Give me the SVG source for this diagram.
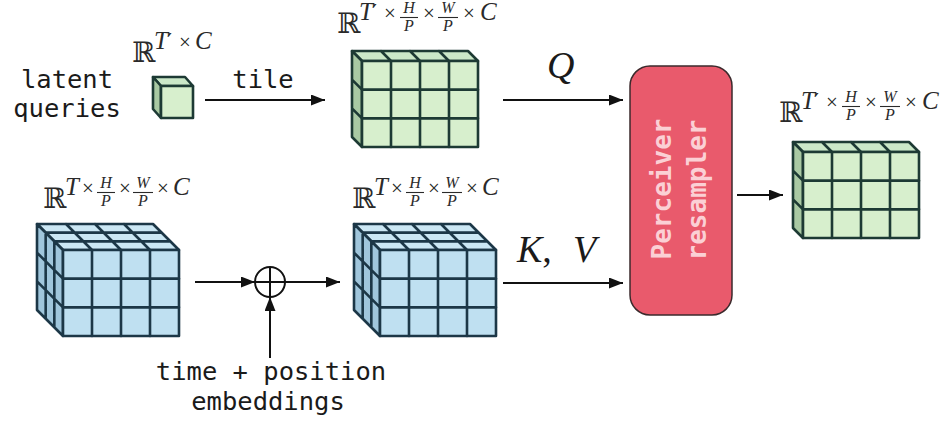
<svg xmlns="http://www.w3.org/2000/svg" xmlns:xlink="http://www.w3.org/1999/xlink" width="942" height="424" viewBox="0 0 942 424">
<style>
.mono{font-family:"DejaVu Sans Mono","Liberation Mono",monospace;font-size:25.5px;fill:#1a1a1a}
.bb{font-family:"DejaVu Serif","DejaVu Sans",serif;font-size:28px;fill:#2a2a2a}
.mi{font-family:"Liberation Serif","DejaVu Serif",serif;font-style:italic;font-size:25px;fill:#2a2a2a}
.op{font-family:"Liberation Serif","DejaVu Serif",serif;font-size:21px;fill:#2a2a2a}
.pr{font-family:"DejaVu Sans","Liberation Sans",sans-serif;font-size:22px;fill:#2a2a2a}
.fr{font-family:"Liberation Serif","DejaVu Serif",serif;font-style:italic;font-size:16px;fill:#2a2a2a;text-anchor:middle}
.fbar{stroke:#2a2a2a;stroke-width:1.1}
.big{font-family:"Liberation Serif","DejaVu Serif",serif;font-style:italic;font-size:38px;fill:#1a1a1a}
.conn{stroke:#111;stroke-width:2;fill:none}
.g-front{fill:#d7efcd}.g-top{fill:#cbe8c8}.g-side{fill:#a9c9a3}
.b-front{fill:#bfe0f1}.b-top{fill:#cbe7f4}.b-side{fill:#a0c6dc}
.gs{stroke:#1d3a34;stroke-width:2.6;stroke-linejoin:round;stroke-linecap:round}
.bs{stroke:#1c3747;stroke-width:2.6;stroke-linejoin:round;stroke-linecap:round}
.box{fill:#e95a6c;stroke:#3b2a2c;stroke-width:1.5}
.boxt{font-family:"DejaVu Sans Mono","Liberation Mono",monospace;font-size:26px;font-weight:bold;fill:#fbd0d5;text-anchor:middle}
</style>
<defs>
<marker id="ah" markerUnits="userSpaceOnUse" markerWidth="15" markerHeight="12" refX="14" refY="5.5" orient="auto">
<path d="M0,0 L14,5.5 L0,11 z" fill="#111"/>
</marker>
<g id="greenBlock">
<path class="g-top gs" d="M0,0 L116,0 L106,-10 L-10,-10 Z M29,0 L19,-10 M58,0 L48,-10 M87,0 L77,-10"/>
<path class="g-side gs" d="M0,0 L0,86 L-10,76 L-10,-10 Z M0,28.67 L-10,18.67 M0,57.33 L-10,47.33"/>
<rect class="g-front gs" x="0" y="0" width="116" height="86"/>
<path class="gs" fill="none" d="M29,0 V86 M58,0 V86 M87,0 V86 M0,28.67 H116 M0,57.33 H116"/>
</g>
<g id="blueBlock">
<path class="b-top bs" d="M0,0 L116,0 L90,-26 L-26,-26 Z M29,0 L3,-26 M58,0 L32,-26 M87,0 L61,-26 M-8.67,-8.67 H107.33 M-17.33,-17.33 H98.67"/>
<path class="b-side bs" d="M0,0 L0,86 L-26,60 L-26,-26 Z M0,28.67 L-26,2.67 M0,57.33 L-26,31.33 M-8.67,-8.67 V77.33 M-17.33,-17.33 V68.67"/>
<rect class="b-front bs" x="0" y="0" width="116" height="86"/>
<path class="bs" fill="none" d="M29,0 V86 M58,0 V86 M87,0 V86 M0,28.67 H116 M0,57.33 H116"/>
</g>
<g id="lblTpHW">
<text class="bb" x="0" y="0">ℝ</text>
<text class="mi" x="22" y="-13">T</text>
<text class="pr" x="35" y="-13">′</text>
<text class="op" x="47" y="-13">×</text>
<text class="fr" x="72" y="-20">H</text><line class="fbar" x1="63" y1="-15.5" x2="81" y2="-15.5"/><text class="fr" x="72" y="-2">P</text>
<text class="op" x="86" y="-13">×</text>
<text class="fr" x="111" y="-20">W</text><line class="fbar" x1="101" y1="-15.5" x2="121" y2="-15.5"/><text class="fr" x="111" y="-2">P</text>
<text class="op" x="126" y="-13">×</text>
<text class="mi" x="143" y="-13">C</text>
</g>
<g id="lblTHW">
<text class="bb" x="0" y="0">ℝ</text>
<text class="mi" x="22" y="-13">T</text>
<text class="op" x="39" y="-13">×</text>
<text class="fr" x="63" y="-20">H</text><line class="fbar" x1="54" y1="-15.5" x2="72" y2="-15.5"/><text class="fr" x="63" y="-2">P</text>
<text class="op" x="76" y="-13">×</text>
<text class="fr" x="100" y="-20">W</text><line class="fbar" x1="90" y1="-15.5" x2="110" y2="-15.5"/><text class="fr" x="100" y="-2">P</text>
<text class="op" x="114" y="-13">×</text>
<text class="mi" x="130" y="-13">C</text>
</g>
</defs>

<g id="latent_queries_label">
<text class="mono" x="67" y="88" text-anchor="middle">latent</text>
<text class="mono" x="67" y="117" text-anchor="middle">queries</text>
</g>

<g id="latent_cube">
<g transform="translate(161,86)">
<path class="g-top gs" d="M0,0 L32,0 L24,-9 L-8,-9 Z"/>
<path class="g-side gs" d="M0,0 L0,32 L-8,23 L-8,-9 Z"/>
<rect class="g-front gs" x="0" y="0" width="32" height="32"/>
</g>
<g transform="translate(132,62)">
<text class="bb" x="0" y="0">ℝ</text>
<text class="mi" x="22" y="-13">T</text>
<text class="pr" x="35" y="-13">′</text>
<text class="op" x="47" y="-13">×</text>
<text class="mi" x="63" y="-13">C</text>
</g>
</g>

<g id="tiled_queries">
<use xlink:href="#greenBlock" href="#greenBlock" transform="translate(362,61)"/>
<use xlink:href="#lblTpHW" href="#lblTpHW" transform="translate(337,33)"/>
</g>

<g id="input_tokens">
<use xlink:href="#blueBlock" href="#blueBlock" transform="translate(63,250)"/>
<use xlink:href="#lblTHW" href="#lblTHW" transform="translate(43,208)"/>
</g>

<g id="add_node">
<circle cx="270" cy="282" r="15" fill="#fff" stroke="#111" stroke-width="2"/>
<path d="M255,282 H285 M270,267 V297" stroke="#111" stroke-width="2"/>
</g>

<g id="embeddings_label">
<text class="mono" x="271" y="380" text-anchor="middle">time + position</text>
<text class="mono" x="268" y="410" text-anchor="middle">embeddings</text>
</g>

<g id="embedded_tokens">
<use xlink:href="#blueBlock" href="#blueBlock" transform="translate(380,250)"/>
<use xlink:href="#lblTHW" href="#lblTHW" transform="translate(352,208)"/>
</g>

<g id="perceiver_resampler">
<rect class="box" x="630" y="66" width="102" height="249" rx="20" ry="20"/>
<text class="boxt" transform="translate(671,189) rotate(-90)">Perceiver</text>
<text class="boxt" transform="translate(706,190) rotate(-90)">resampler</text>
</g>

<g id="output_tokens">
<use xlink:href="#greenBlock" href="#greenBlock" transform="translate(803,152)"/>
<use xlink:href="#lblTpHW" href="#lblTpHW" transform="translate(779,122)"/>
</g>

<g id="connectors">
<path class="conn" d="M205,100 H325" marker-end="url(#ah)"/>
<text class="mono" x="263" y="88" text-anchor="middle">tile</text>
<path class="conn" d="M503,100 H623" marker-end="url(#ah)"/>
<text class="big" x="547" y="78">Q</text>
<path class="conn" d="M503,283 H623" marker-end="url(#ah)"/>
<text class="big" x="517" y="262">K<tspan font-style="normal">,</tspan><tspan x="573">V</tspan></text>
<path class="conn" d="M195,282 H255" marker-end="url(#ah)"/>
<path class="conn" d="M285,282 H340" marker-end="url(#ah)"/>
<path class="conn" d="M270,358 V297" marker-end="url(#ah)"/>
<path class="conn" d="M737,195 H783" marker-end="url(#ah)"/>
</g>
</svg>
